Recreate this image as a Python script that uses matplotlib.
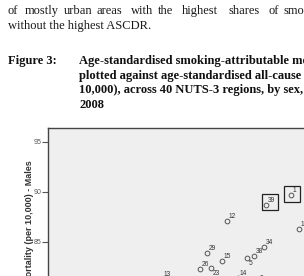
import matplotlib
matplotlib.use("Agg")
import matplotlib.pyplot as plt
from matplotlib.transforms import offset_copy

# region numbers with the values (males)
region_ids = ['1', '39', '12', '18', '34', '38', '5', '29', '15', '26', '23', '13', '14', '3']
smoking_attr = [34.3, 31.8, 27.9, 35.1, 31.6, 30.6, 29.9, 25.9, 27.4, 25.2, 26.3, 21.4, 29.0, 31.0]
all_cause = [89.7, 88.7, 87.1, 86.3, 84.5, 83.6, 83.4, 83.9, 83.1, 82.3, 82.4, 81.3, 81.4, 80.9]
boxed_ids = ['1', '39']
y_ticks = [85, 90, 95]

body_line1 = ['of', 'mostly', 'urban', 'areas', 'with', 'the', 'highest', 'shares', 'of', 'smoking-attributable']
body_line2 = 'without the highest ASCDR.'
caption_label = 'Figure 3:'
caption_lines = ['Age-standardised smoking-attributable mortality (per 10,000)',
                 'plotted against age-standardised all-cause mortality (per',
                 '10,000), across 40 NUTS-3 regions, by sex,',
                 '2008']
y_label = 'Age-standardised all-cause mortality (per 10,000) - Males'

W, H = 304, 276


def fx(px):
    return px / W


def fy(py):
    return 1 - py / H


fig = plt.figure(figsize=(W / 100, H / 100), dpi=100)

# page text above the figure (first body line is justified, so words go one by one)
serif = 'Liberation Serif'
word_x = [7.5, 25, 64.3, 96.7, 130.7, 158.3, 181.7, 228.3, 268.3, 283.3]
for w, px in zip(body_line1, word_x):
    fig.text(fx(px), fy(14), w, fontsize=9, family=serif, color='#1a1a1a', va='baseline')
fig.text(fx(7.5), fy(29), body_line2, fontsize=9, family=serif, color='#1a1a1a', va='baseline')

cap_kw = dict(fontsize=9, family=serif, weight='bold', color='#111', va='baseline')
fig.text(fx(7.5), fy(64), caption_label, **cap_kw)
for i, line in enumerate(caption_lines):
    fig.text(fx(79), fy(64 + i * 14.6), line, **cap_kw)

# scatter panel, cut by the page edge at right and bottom
top_px = 127.5
ax = fig.add_axes([fx(48), -0.1, 1.1 - fx(48), fy(top_px) + 0.1])
ax.set_facecolor('#efefef')
for s in ['right', 'bottom']:
    ax.spines[s].set_visible(False)
for s in ['top', 'left']:
    ax.spines[s].set_color('#444')
    ax.spines[s].set_linewidth(1.0)

ax.set_xlim(10, 38.64)
ax.set_ylim(78.81, 96.42)
ax.set_xticks([])
ax.set_yticks(y_ticks)
ax.tick_params(axis='y', length=4.5, width=0.8, color='#555', labelsize=5,
               labelcolor='#555', pad=0.5)
for t in ax.get_yticklabels():
    t.set_family('Liberation Sans')

ax.plot(smoking_attr, all_cause, 'o', mfc='none', mec='#555', ms=3.4, mew=0.7)

for rid, x, y in zip(region_ids, smoking_attr, all_cause):
    if rid in ('5', '23'):
        ax.annotate(rid, (x, y), xytext=(1.5, -1.5), textcoords='offset points',
                    fontsize=4.8, color='#333', ha='left', va='top', family='Liberation Sans')
    else:
        ax.annotate(rid, (x, y), xytext=(1.2, 0.8), textcoords='offset points',
                    fontsize=4.8, color='#333', ha='left', va='bottom', family='Liberation Sans')

box_shift = {'1': (0.5, 0.3), '39': (3.5, 2.7)}
for rid, x, y in zip(region_ids, smoking_attr, all_cause):
    if rid in boxed_ids:
        dx, dy = box_shift[rid]
        tr = offset_copy(ax.transData, fig=fig, x=dx, y=dy, units='dots')
        ax.plot([x], [y], marker='s', ms=11.5, mfc='none', mec='#222', mew=0.9, transform=tr)

fig.text(fx(29.3), fy(160), y_label, rotation=90, fontsize=6.5, weight='bold',
         family='Liberation Sans', color='#333', ha='center', va='top')

fig.savefig('out.png', dpi=100)
